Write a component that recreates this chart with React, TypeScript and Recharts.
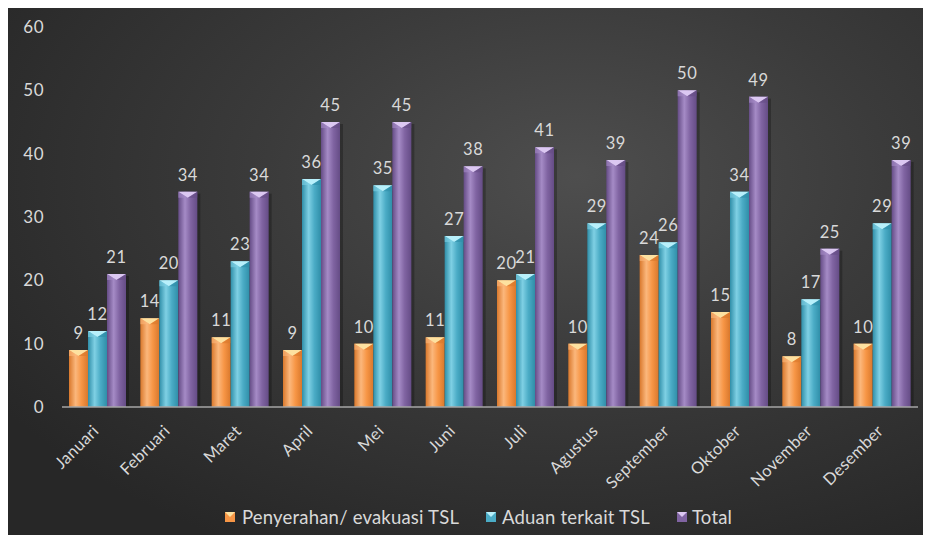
import { BarChart, Bar, XAxis, YAxis, LabelList } from "recharts";

const months = [
  "Januari", "Februari", "Maret", "April", "Mei", "Juni",
  "Juli", "Agustus", "September", "Oktober", "November", "Desember",
];
const penyerahan = [9, 14, 11, 9, 10, 11, 20, 10, 24, 15, 8, 10];
const aduan = [12, 20, 23, 36, 35, 27, 21, 29, 26, 34, 17, 29];
const total = [21, 34, 34, 45, 45, 38, 41, 39, 50, 49, 25, 39];
const yTicks = [0, 10, 20, 30, 40, 50, 60];

const data = months.map((m, i) => ({
  month: m,
  penyerahan: penyerahan[i],
  aduan: aduan[i],
  total: total[i],
}));

const FONT = "Lato, 'Open Sans', sans-serif";
const TEXT = "#d9d9d9";

const palette = {
  orange: { base: "#f79646", light: "#fbb77c", dark: "#d9782c", top: "#fde1a0" },
  cyan: { base: "#4bacc6", light: "#7fd0e4", dark: "#2f8ea8", top: "#b8f0fb" },
  purple: { base: "#8064a2", light: "#a58bc6", dark: "#654c86", top: "#dcc8f2" },
};

function makeShape(key: keyof typeof palette) {
  return (props: any) => {
    const { x, y, width, height } = props;
    if (!height || height <= 0) return <g />;
    const c = palette[key];
    const bevel = Math.min(6, height);
    return (
      <g>
        <rect x={x + 3} y={y + 2} width={width} height={height - 2} fill="#000" opacity={0.25} />
        <rect x={x} y={y} width={width} height={height} fill={`url(#grad-${key})`} />
        <polygon
          points={`${x},${y} ${x + width},${y} ${x + width / 2},${y + bevel}`}
          fill={c.top}
        />
        <polygon points={`${x},${y} ${x + width / 2},${y + bevel} ${x},${y + bevel}`} fill={c.light} opacity={0.6} />
        <polygon
          points={`${x + width},${y} ${x + width / 2},${y + bevel} ${x + width},${y + bevel}`}
          fill={c.dark}
          opacity={0.6}
        />
      </g>
    );
  };
}

function MonthTick(props: any) {
  const { x, y, payload } = props;
  const ax = x + 2;
  const ay = y + 17;
  return (
    <text
      x={ax}
      y={ay}
      transform={`rotate(-45, ${ax}, ${ay})`}
      textAnchor="end"
      fill={TEXT}
      fontSize={16.5}
      letterSpacing={0.3}
      fontFamily={FONT}
    >
      {payload.value}
    </text>
  );
}

function Marker({ k }: { k: keyof typeof palette }) {
  const c = palette[k];
  return (
    <svg width={10} height={10} style={{ position: "absolute", left: 0, top: 6 }}>
      <rect x={0} y={0} width={10} height={10} fill={c.base} />
      <polygon points="0,0 10,0 5,5" fill={c.top} />
    </svg>
  );
}

// left edge of each legend marker, in the chart's own coordinates
const legendItems: { k: keyof typeof palette; label: string; left: number; pad: number }[] = [
  { k: "orange", label: "Penyerahan/ evakuasi TSL", left: 217, pad: 17 },
  { k: "cyan", label: "Aduan terkait TSL", left: 478, pad: 16 },
  { k: "purple", label: "Total", left: 669, pad: 15 },
];

const labelProps = {
  position: "top" as const,
  offset: 11,
  fill: TEXT,
  fontSize: 16.5,
  letterSpacing: 0.6,
  fontFamily: FONT,
};

export default function App() {
  return (
    <div
      style={{
        position: "relative",
        width: 917,
        height: 528,
        marginTop: -2,
        marginLeft: -1,
        borderTop: "1px solid #c8c8c8",
        borderLeft: "1px solid #c8c8c8",
        background:
          "radial-gradient(ellipse 75% 80% at 62% 32%, #4e4e4e 0%, #3b3b3b 45%, #272727 100%)",
      }}
    >
      <BarChart
        width={917}
        height={528}
        data={data}
        margin={{ top: 20, right: 7, left: 0, bottom: 0 }}
        barGap={0}
        barSize={19}
      >
        <defs>
          {(Object.keys(palette) as (keyof typeof palette)[]).map((k) => (
            <linearGradient key={k} id={`grad-${k}`} x1="0" y1="0" x2="1" y2="0">
              <stop offset="0%" stopColor={palette[k].dark} />
              <stop offset="35%" stopColor={palette[k].light} />
              <stop offset="65%" stopColor={palette[k].base} />
              <stop offset="100%" stopColor={palette[k].dark} />
            </linearGradient>
          ))}
        </defs>
        <XAxis
          dataKey="month"
          height={128}
          interval={0}
          tick={<MonthTick />}
          tickLine={false}
          axisLine={{ stroke: "#a6a6a6", strokeWidth: 1.5 }}
        />
        <YAxis
          width={54}
          domain={[0, 60]}
          ticks={yTicks}
          axisLine={false}
          tickLine={false}
          tickSize={0}
          tickMargin={18}
          tick={{ fill: TEXT, fontSize: 17, fontFamily: FONT, letterSpacing: 0.5 }}
        />
        <Bar dataKey="penyerahan" shape={makeShape("orange")} isAnimationActive={false}>
          <LabelList dataKey="penyerahan" {...labelProps} />
        </Bar>
        <Bar dataKey="aduan" shape={makeShape("cyan")} isAnimationActive={false}>
          <LabelList dataKey="aduan" {...labelProps} />
        </Bar>
        <Bar dataKey="total" shape={makeShape("purple")} isAnimationActive={false}>
          <LabelList dataKey="total" {...labelProps} />
        </Bar>
      </BarChart>
      {legendItems.map((it) => (
        <div
          key={it.k}
          style={{
            position: "absolute",
            top: 499,
            left: it.left,
            height: 22,
            paddingLeft: it.pad,
            fontFamily: FONT,
            fontSize: 18.5,
            letterSpacing: 0.2,
            lineHeight: "22px",
            color: TEXT,
            whiteSpace: "nowrap",
          }}
        >
          <Marker k={it.k} />
          <span>{it.label}</span>
        </div>
      ))}
    </div>
  );
}
